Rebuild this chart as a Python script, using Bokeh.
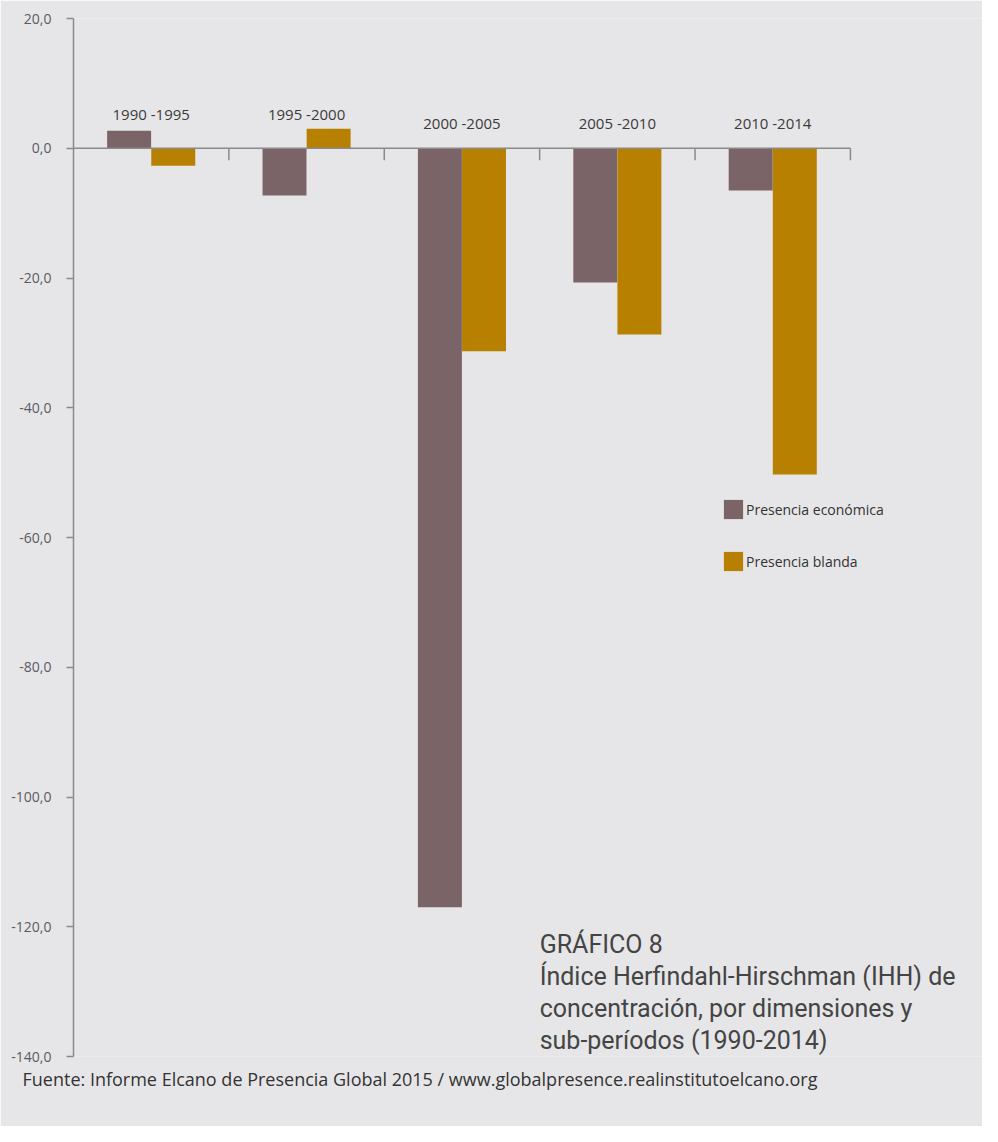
import numpy as np
from bokeh.plotting import figure
from bokeh.models import Range1d, FixedTicker, Legend, LegendItem, ColumnDataSource, Title
from bokeh.core.properties import value
from bokeh.embed import file_html
from bokeh.resources import INLINE

# ---- data ----
periods = ["1990 -1995", "1995 -2000", "2000 -2005", "2005 -2010", "2010 -2014"]
economica = [2.7, -7.3, -117.0, -20.7, -6.5]
blanda = [-2.7, 3.0, -31.3, -28.7, -50.3]
series_names = ["Presencia económica", "Presencia blanda"]
y_ticks = [20, 0, -20, -40, -60, -80, -100, -120, -140]
y_tick_labels = ["20,0", "0,0", "-20,0", "-40,0", "-60,0", "-80,0", "-100,0", "-120,0", "-140,0"]
title_lines = ["GRÁFICO 8",
               "Índice Herfindahl-Hirschman (IHH) de",
               "concentración, por dimensiones y",
               "sub-períodos (1990-2014)"]
footer = "Fuente: Informe Elcano de Presencia Global 2015 / www.globalpresence.realinstitutoelcano.org"

BG = "#e6e6e8"
C_ECO = "#7b6467"
C_BLA = "#b88000"
AXIS = "#8a8a8a"

n = len(periods)
idx = np.arange(n)
centers = idx + 0.5

p = figure(width=982, height=1126, output_backend="svg", toolbar_location=None,
           x_range=Range1d(0, 5.85), y_range=Range1d(-140, 20),
           x_axis_location=None,
           min_border_left=73, min_border_top=18, min_border_bottom=70, min_border_right=0)
p.background_fill_color = BG
p.border_fill_color = BG
p.outline_line_color = None
p.xgrid.visible = False
p.ygrid.visible = False

# y axis
ax = p.yaxis[0]
ax.ticker = FixedTicker(ticks=y_ticks)
ax.major_label_overrides = {t: l for t, l in zip(y_ticks, y_tick_labels)}
ax.axis_line_color = AXIS
ax.axis_line_width = 1.5
ax.major_tick_line_color = AXIS
ax.major_tick_line_width = 1.5
ax.major_tick_out = 7
ax.major_tick_in = 0
ax.minor_tick_line_color = None
ax.major_label_standoff = 15
ax.major_label_text_font = "Open Sans"
ax.major_label_text_font_size = "14px"
ax.major_label_text_color = "#5a5a66"

# bars
src = ColumnDataSource(dict(x_eco=centers - 0.142, x_bla=centers + 0.142,
                            eco=economica, bla=blanda))
r1 = p.vbar(x="x_eco", top="eco", bottom=0, width=0.283, source=src,
            fill_color=C_ECO, line_color=None)
r2 = p.vbar(x="x_bla", top="bla", bottom=0, width=0.283, source=src,
            fill_color=C_BLA, line_color=None)

# zero line axis with boundary ticks
p.segment(x0=[0], y0=[0], x1=[n], y1=[0], line_color=AXIS, line_width=1.5)
p.segment(x0=idx + 1, y0=np.zeros(n), x1=idx + 1, y1=np.full(n, -1.85),
          line_color=AXIS, line_width=1.5)

# category labels
maxpos = np.maximum(0, np.maximum(economica, blanda))
label_y = np.where(maxpos > 0, 5.3, 3.9)
p.text(x=centers, y=label_y, text=periods, text_align="center", text_baseline="middle",
       text_font=value("Open Sans"), text_font_size="15px", text_color="#3a3a3a")

# legend
legend = Legend(items=[LegendItem(label=series_names[0], renderers=[r1]),
                       LegendItem(label=series_names[1], renderers=[r2])],
                location=(648, 483), orientation="vertical",
                glyph_width=24, glyph_height=24, label_standoff=1, spacing=28,
                padding=0, margin=0, background_fill_alpha=0, border_line_color=None,
                label_text_font="Open Sans", label_text_font_size="14px",
                label_text_color="#333333", label_height=24)
p.add_layout(legend, "center")

# title block
line_idx = np.arange(len(title_lines))
p.text(x=np.full(len(title_lines), 3.0), y=-122.7 - line_idx * 4.93, text=title_lines,
       text_align="left", text_baseline="middle",
       text_font=value("Roboto"), text_font_size="25px", text_color="#444444")

# footer
p.add_layout(Title(text=footer, align="left", offset=-51, standoff=17,
                   text_font="Open Sans", text_font_size="18px", text_font_style="normal",
                   text_color="#333333"), "below")

open("out.html", "w").write(file_html(p, INLINE))
